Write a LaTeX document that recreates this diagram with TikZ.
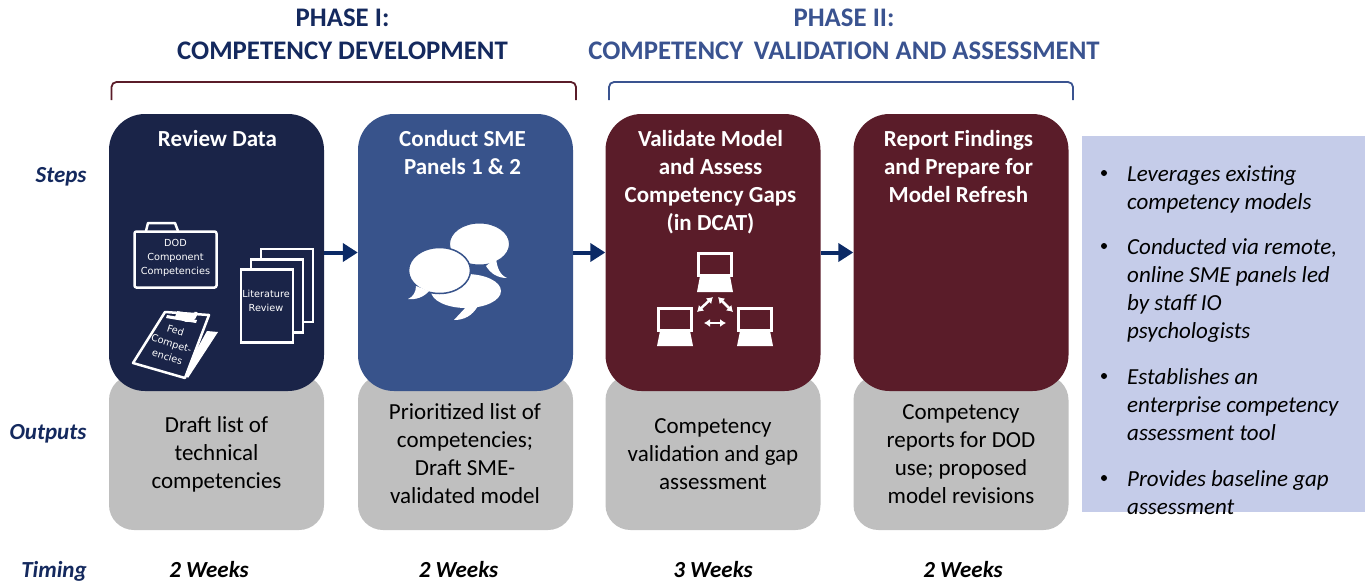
\documentclass[tikz,border=0pt]{standalone}
\usepackage{fontspec}
\setmainfont{Carlito}
\newfontfamily\iconfont{DejaVu Sans}
\usetikzlibrary{arrows.meta,positioning}
\definecolor{navybox}{HTML}{1A2448}
\definecolor{bluebox}{HTML}{38538B}
\definecolor{redbox}{HTML}{5A1C29}
\definecolor{greybox}{HTML}{BFBFBF}
\definecolor{notebox}{HTML}{C5CCE9}
\definecolor{navytext}{HTML}{14295E}
\definecolor{bluetext}{HTML}{3A5390}
\definecolor{arrowblue}{HTML}{0B2A66}
\begin{document}
\begin{tikzpicture}[x=1pt,y=-1pt,
                    every node/.style = {shape=rectangle,
                    align=center, inner sep=0pt},
                    stepbox/.style = {rounded corners=36pt, minimum width=215pt,
                    minimum height=277pt},
                    outbox/.style = {fill=greybox, rounded corners=25pt,
                    minimum width=215pt, minimum height=155pt},
                    steptitle/.style = {white, font=\fontsize{23}{28}\selectfont\bfseries,
                    anchor=north},
                    outtext/.style = {font=\fontsize{23}{28}\selectfont},
                    rowlabel/.style = {navytext, font=\fontsize{23}{25}\selectfont\bfseries\itshape},
                    timelabel/.style = {font=\fontsize{23}{25}\selectfont\bfseries\itshape},
                    phase/.style = {font=\fontsize{26.8}{33}\selectfont\bfseries},
                    notetext/.style = {font=\fontsize{23}{28}\selectfont\itshape, align=left,
                    anchor=north west},
                    flow/.style = {draw=arrowblue, line width=4pt, -{Triangle[length=15pt,width=18pt]}},
                    icon/.style = {draw=white, line width=2.5pt, fill=navybox},
                    icontext/.style = {white, font=\iconfont\fontsize{9.7}{14}\selectfont},
                    screen/.style = {draw=white, line width=3pt, fill=redbox},
                    tiny arrow/.style = {draw=white, line width=2.5pt, {Latex[length=6pt,width=8pt]}-{Latex[length=6pt,width=8pt]}},
                    bubble/.style = {fill=white}]
  \useasboundingbox (0,0) rectangle (1365,582);

  % output boxes first, step boxes overlap them
  \node[outbox] (out1) at (216.5,452.5) {};
  \node[outbox] (out2) at (465.5,452.5) {};
  \node[outbox] (out3) at (713,452.5) {};
  \node[outbox] (out4) at (961,452.5) {};
  \node[stepbox, fill=navybox] (step1) at (216.5,252.5) {};
  \node[stepbox, fill=bluebox] (step2) at (465.5,252.5) {};
  \node[stepbox, fill=redbox] (step3) at (713,252.5) {};
  \node[stepbox, fill=redbox] (step4) at (961,252.5) {};

  \draw[flow] (step1) -- (step2);
  \draw[flow] (step2) -- (step3);
  \draw[flow] (step3) -- (step4);

  % titles
  \node[steptitle] (title1) at (217.5,130) {Review Data};
  \node[steptitle] (title2) at (462.5,130) {Conduct SME\\Panels 1 \& 2};
  \node[steptitle] (title3) at (710.5,130) {Validate Model\\and Assess\\Competency Gaps\\(in DCAT)};
  \node[steptitle] (title4) at (958.5,130) {Report Findings\\and Prepare for\\Model Refresh};

  \node[outtext] (text1) at (216.5,454) {Draft list of\\technical\\competencies};
  \node[outtext] (text2) at (465,454) {Prioritized list of\\competencies;\\Draft SME-\\validated model};
  \node[outtext] (text3) at (713,454) {Competency\\validation and gap\\assessment};
  \node[outtext] (text4) at (961,454) {Competency\\reports for DOD\\use; proposed\\model revisions};

  % left column and timing row
  \node[rowlabel] (steps) at (61,177) {Steps};
  \node[rowlabel] (outputs) at (48,434) {Outputs};
  \node[rowlabel] (timing) at (54,571) {Timing};
  \node[timelabel] (time1) at (209,570) {2 Weeks};
  \node[timelabel] (time2) at (458.5,570) {2 Weeks};
  \node[timelabel] (time3) at (713,570) {3 Weeks};
  \node[timelabel] (time4) at (963,570) {2 Weeks};

  % phases
  \node[phase, navytext] (phase1) at (342.5,34) {PHASE I:\\COMPETENCY DEVELOPMENT};
  \node[phase, bluetext] (phase2) at (844,34) {PHASE II:\\COMPETENCY\, VALIDATION AND ASSESSMENT};
  \coordinate (brA) at (111.5,100);
  \coordinate (brB) at (576,100);
  \coordinate (brC) at (609,100);
  \coordinate (brD) at (1073,100);
  \draw[redbox, line width=1.8pt, rounded corners=5pt] (brA) |- (576,82) -- (brB);
  \draw[bluetext, line width=1.8pt, rounded corners=5pt] (brC) |- (1073,82) -- (brD);

  % side note, last line runs past the box
  \fill[notebox] (1082,136) rectangle (1365,512);
  \node[notetext] (note1) at (1127,165) {Leverages existing\\competency models};
  \node[notetext] (note2) at (1127,238) {Conducted via remote,\\online SME panels led\\by staff IO\\psychologists};
  \node[notetext] (note3) at (1127,368) {Establishes an\\enterprise competency\\assessment tool};
  \node[notetext] (note4) at (1127,470) {Provides baseline gap\\assessment};
  \foreach \y in {173,246,376,478} {
    \fill (1104,\y) circle (3pt);
  }

  % briefcase
  \draw[white, line width=2.5pt, line join=round] (146,231) -- (148,223) -- (175,223) -- (178,231);
  \node[icon, rounded corners=2pt, minimum width=82pt, minimum height=56pt] (brief) at (175.5,259.5) {};
  \node[icontext] (brieftext) at (175.5,258) {DOD\\Component\\Competencies};

  % stack of pages
  \node[icon, minimum width=52pt, minimum height=73pt] (page3) at (287,285.5) {};
  \node[icon, minimum width=52pt, minimum height=73pt] (page2) at (277,296) {};
  \node[icon, minimum width=52pt, minimum height=73pt] (page1) at (267,306) {};
  \node[icontext] (pagetext) at (266,301) {Literature\\Review};

  % clipboard
  \fill[white] (207,331) -- (218,332) -- (188,378) -- (184,372) -- cycle;
  \draw[icon, line join=round] (165,312) -- (209,315) -- (185,378) -- (133,363) -- cycle;
  \draw[white, line width=3pt] (180,314) arc[start angle=170, end angle=-5, radius=8];
  \fill[white] (167,315) -- (197,320) -- (196,323) -- (166,318) -- cycle;
  \fill[white] (177,311) -- (195,314) -- (194,321) -- (175,317) -- cycle;
  \node[icontext, rotate=-17] (cliptext) at (171.5,343.5) {Fed\\Compet-\\encies};

  % speech bubbles
  \fill[bubble] (466,291) ellipse (35 and 17);
  \fill[bubble] (467,306) -- (454,320) .. controls (464,320) and (472,316) .. (478,306) -- cycle;
  \fill[bubble, draw=bluebox, line width=1pt] (479.5,244) ellipse (30 and 21);
  \fill[bubble] (496,258) .. controls (497,268) and (500,275) .. (507,278) .. controls (498,278) and (491,274) .. (486,266) -- cycle;
  \fill[bubble, draw=bluebox, line width=1.5pt] (439.5,270.5) ellipse (31 and 23);
  \fill[bubble] (416,286) .. controls (416,292) and (413,297) .. (408,299) .. controls (416,300) and (424,297) .. (429,291) -- cycle;

  % network icon
  \fill[white] (700,276) -- (730,276) -- (733,292) -- (697,292) -- cycle;
  \node[screen, minimum width=33pt, minimum height=22pt] (pcA) at (715,264.5) {};
  \fill[white] (660,331) -- (690,331) -- (693,346) -- (657,346) -- cycle;
  \node[screen, minimum width=33pt, minimum height=22pt] (pcB) at (675,319.5) {};
  \fill[white] (740,331) -- (770,331) -- (773,346) -- (737,346) -- cycle;
  \node[screen, minimum width=33pt, minimum height=22pt] (pcC) at (755,319.5) {};
  \coordinate (netA) at (697,312);
  \coordinate (netB) at (713,297);
  \coordinate (netC) at (718,297);
  \coordinate (netD) at (733,312);
  \coordinate (netE) at (704,323);
  \coordinate (netF) at (726,323);
  \draw[tiny arrow] (netA) -- (netB);
  \draw[tiny arrow] (netC) -- (netD);
  \draw[tiny arrow] (netE) -- (netF);
\end{tikzpicture}
\end{document}
